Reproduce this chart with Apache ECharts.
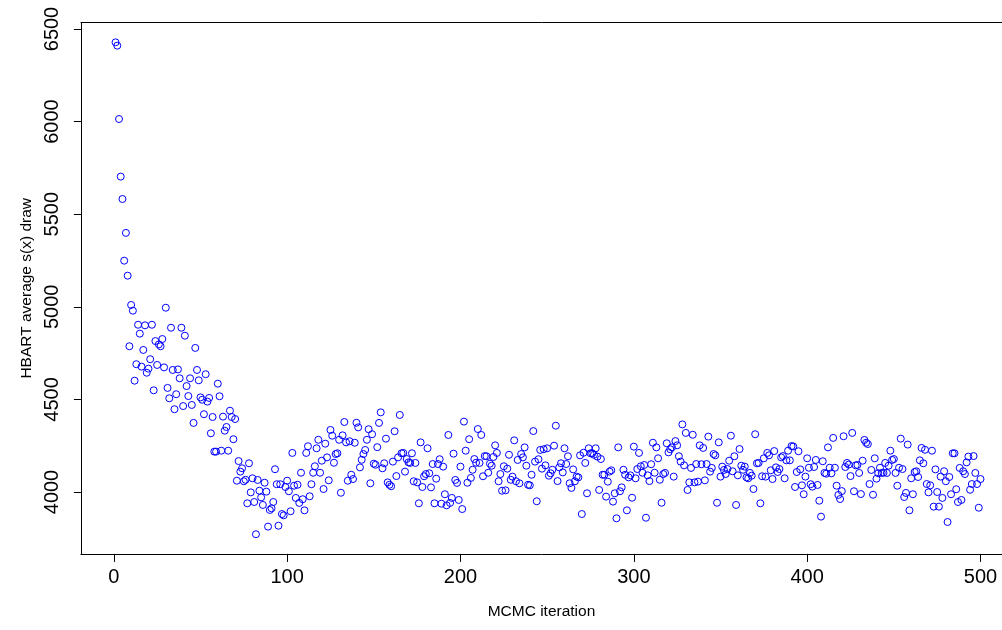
<!DOCTYPE html>
<html><head><meta charset="utf-8">
<script src="https://cdn.jsdelivr.net/npm/echarts@6/dist/echarts.min.js"></script>
<style>html,body{margin:0;padding:0;background:#fff}#c{width:1002px;height:630px}</style>
</head><body><div id="c"></div>
<script>
// HBART average s(x) draw per MCMC iteration
const drawsA = [6428,6410,6014,5703,5582,5249,5399,5168,4787,5010,
  4979,4601,4690,4903,4855,4677,4767,4900,4644,4666,
  4717,4903,4549,4815,4686,4797,4787,4826,4673,4995,
  4562,4506,4887,4659,4447,4528,4662,4614,4887,4464,
  4844,4572,4518,4614,4470,4373,4778,4659,4603,4511,
  4498,4420,4636,4488,4508,4317,4405,4218,4218,4585,
  4517,4223,4407,4331,4351,4223,4439,4405,4285,4394,
  4061,4167,4110,4128,4058,4066,3939,4155,3998,4074,
  3946,3772,4065,4007,3971,3930,4050,4002,3813,3903,
  3912,3946,4123,4042,3818,4042,3881,3874,4027,4061,
  4004];
const drawsB = [3896,4211,4034,3968,4039,3941,4104,3961,3901,4211,
  4247,3977,4042,4104,4139,4236,4282,4104,4169,4016,
  4261,4187,4063,4335,4304,4158,4205,4209,4282,3996,
  4306,4378,4268,4061,4274,4093,4070,4266,4374,4349,
  4133,4174,4205,4227,4282,4339,4047,4312,4153,4147,
  4242,4373,4430,4128,4155,4288,4052,4039,4031,4164,
  4328,4086,4187,4416,4209,4211,4110,4178,4160,4157,
  4209,4058];
const drawsC = [4157,4052,3939,4268,4027,4085,4097,4236,4101,4025,
  4151,3939,4072,4151,4177,3937,4137,3988,3928,4308,
  3941,3968,4207,4065,4049,3957,4137,3908,4380,4223,
  4050,4285,4076,4120,4178,4158,4340,4157,4308,4085,
  4194,4193,4104,4153,4142,4189,4252,4211,4058,4097,
  4007,4139,4009,4126,4201,4066,4083,4279,4058,4173,
  4047,4205,4187,4241,4142,4039];
const drawsD = [4036,4093,4329,4164,3950,4177,4227,4126,4231,4144,
  4236,4088,4101,4120,4250,4358,4059,4133,4155,
  4106,4236,4151,4193,4047,4022,4122,4058,4083,4079,
  4198,3881,4212,4157,3993,4236,4209,4209,4201,4236,
  4191,4011,4178,4093,4093,3975,4056,4110,4117,3948,
  3993,3858,4241,4004,4025,4120,4093,3901,4079,4090,
  3969,4245,4074,4124,4211,4139];
const drawsE = [4104,4146,3861,4090,4059,4150,4266,4104,4241,4182,
  4066,3942,4097,4103,4263,4214,4231,4241,4083,4275,
  4252,4193,4164,4365,4144,4319,4011,4052,4130,4309,
  4052,4151,4056,4252,4150,4238,4063,4151,4299,4110,
  4130,4205,4198,3942,4268,4083,4137,4119,4097,4124,
  4169,4304,4112,4193,3930,4090,4232,4142,4120,4137,
  4079,4074,4103,4088,4016,4312,4155];
const drawsF = [4157,3939,4085,4182,4083,4211,4198,4117,4070,4221,
  4133,4108,4124,4187,4194,4074,4171,4223,4171,4248,
  4246,4027,4108,4220,4122,4036,3988,4083,4182,4131,
  4042,4029,4135,4173,4038,3953,3867,4166,4103,4099,
  4241,4131,4101,4292,4131,4034,3984,3962,4005,4301,
  4135,4157,4148,4086,4319,4004,4144,4146,4103,3989,
  4169,4281,4266,4259,4043,4119,3985];
const drawsG = [4182,4072,4101,4131,4103,4104,4157,4103,4142,4223,
  4173,4178,4103,4034,4131,4288,4124,3973,3995,4256,
  3901,4074,3988,4108,4112,4081,4171,4238,4155,4228,
  4043,3998,4036,4223,3921,4122,4000,3921,4083,3968,
  4112,4058,3838,4081,3988,4209,4209,4015,3946,4130,
  3957,4112,4097,4160,4191,4012,4043,4194,4103,4043,
  3915,4070];
const xTicks = [0,100,200,300,400,500];
const yTicks = [4000,4500,5000,5500,6000,6500];
const xTitle = 'MCMC iteration';
const yTitle = 'HBART average s(x) draw';

const draws = [].concat(drawsA, drawsB, drawsC, drawsD, drawsE, drawsF, drawsG);
const iterations = draws.map((_, i) => i + 1);

// R-style 4% range padding (x range is cut by the right edge of the picture)
const xLo = 1, xHi = draws.length;
const yLo = Math.min(...draws), yHi = Math.max(...draws);
const xMin = xLo - 0.04 * (xHi - xLo);
const yMin = yLo - 0.04 * (yHi - yLo), yMax = yHi + 0.04 * (yHi - yLo);

// pixel anchors of the reference plot
const W = 1002, H = 630;
const px0 = 113.8, pxPer = 1.7334;
const py4000 = 492, pyPer = 0.1852;
const gLeft = px0 + xMin * pxPer;
const xMax = (W - px0) / pxPer;            // visible right end of the plot region
const gTop = py4000 - (yMax - 4000) * pyPer;
const gBottomEdge = py4000 + (4000 - yMin) * pyPer;

const font = '"Liberation Sans", Arial, Helvetica, sans-serif';
const tickFs = 20;
const titleFs = 15.5;
const plain = v => String(Math.round(v));

const chart = echarts.init(document.getElementById('c'), null, {renderer: 'canvas'});
chart.setOption({
  animation: false,
  backgroundColor: '#ffffff',
  textStyle: {fontFamily: font},
  grid: {left: gLeft, right: 0, top: gTop, bottom: H - gBottomEdge, show: false},
  xAxis: [{
    type: 'value', position: 'bottom', min: xMin, max: xMax,
    name: xTitle, nameLocation: 'middle', nameGap: 50,
    nameTextStyle: {fontFamily: font, fontSize: titleFs, color: '#000'},
    axisLine: {show: true, onZero: false, lineStyle: {color: '#000', width: 1}},
    splitLine: {show: false},
    axisTick: {show: true, inside: false, length: 8, customValues: xTicks, lineStyle: {color: '#000', width: 1}},
    axisLabel: {show: true, customValues: xTicks, formatter: plain, margin: 14, fontFamily: font, fontSize: tickFs, color: '#000'}
  }, {
    type: 'value', position: 'top', min: xMin, max: xMax,
    axisLine: {show: true, onZero: false, lineStyle: {color: '#000', width: 1}},
    axisTick: {show: false}, axisLabel: {show: false}, splitLine: {show: false}
  }],
  yAxis: {
    type: 'value', position: 'left', min: yMin, max: yMax,
    name: yTitle, nameLocation: 'middle', nameGap: 46, nameRotate: 90,
    nameTextStyle: {fontFamily: font, fontSize: titleFs, color: '#000'},
    axisLine: {show: true, onZero: false, lineStyle: {color: '#000', width: 1}},
    splitLine: {show: false},
    axisTick: {show: true, inside: false, length: 7, customValues: yTicks, lineStyle: {color: '#000', width: 1}},
    axisLabel: {show: true, customValues: yTicks, formatter: plain, rotate: 90, margin: 18, fontFamily: font, fontSize: tickFs, color: '#000'}
  },
  series: [{
    type: 'scatter',
    xAxisIndex: 0,
    data: iterations.map((x, i) => [x, draws[i]]),
    symbol: 'circle',
    symbolSize: 7,
    itemStyle: {color: 'rgba(0,0,0,0)', borderColor: '#0000FF', borderWidth: 1, opacity: 1},
    emphasis: {disabled: true},
    clip: false
  }]
});
</script>
</body></html>
